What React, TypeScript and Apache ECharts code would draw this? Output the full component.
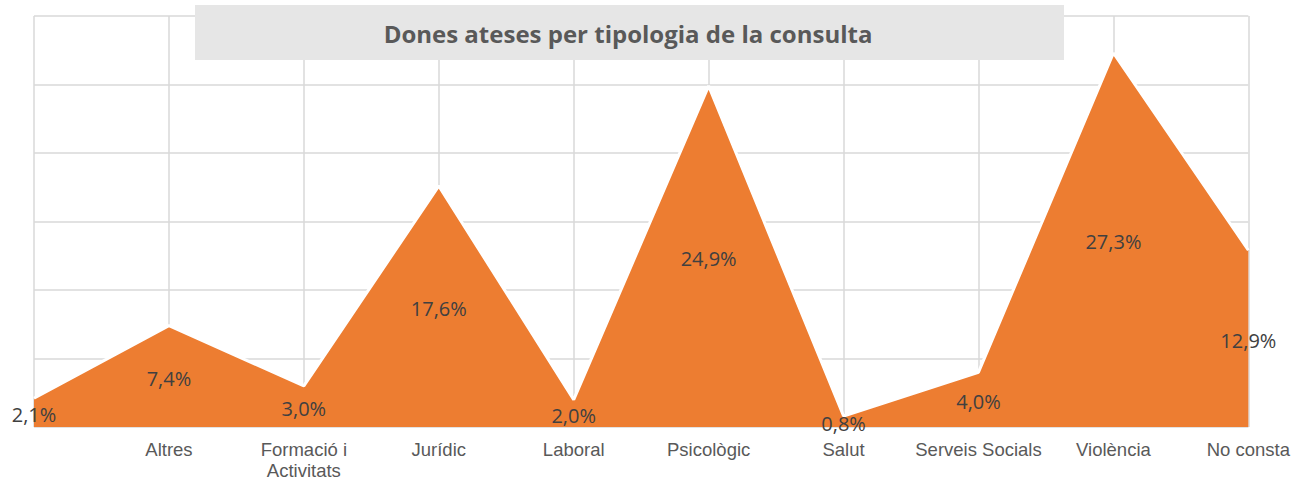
import React, { useEffect, useRef } from "react";
import * as echarts from "echarts";

const categories = [
  "",
  "Altres",
  "Formació i\nActivitats",
  "Jurídic",
  "Laboral",
  "Psicològic",
  "Salut",
  "Serveis Socials",
  "Violència",
  "No consta",
];
const values = [2.1, 7.4, 3.0, 17.6, 2.0, 24.9, 0.8, 4.0, 27.3, 12.9];
const titleText = "Dones ateses per tipologia de la consulta";

const fmt = (v: number) => v.toFixed(1).replace(".", ",") + "%";

export default function App() {
  const ref = useRef<HTMLDivElement>(null);
  useEffect(() => {
    if (!ref.current) return;
    const chart = echarts.init(ref.current, null, { renderer: "svg" });
    chart.setOption({
      animation: false,
      backgroundColor: "#ffffff",
      grid: { left: 34, right: 43, top: 16, bottom: 51, containLabel: false },
      xAxis: {
        type: "category",
        data: categories,
        boundaryGap: false,
        axisLine: { show: false },
        axisTick: { show: false },
        axisLabel: {
          color: "#595959",
          fontFamily: "Liberation Sans, Arial, sans-serif",
          fontSize: 18.5,
          lineHeight: 21,
          margin: 12,
          interval: 0,
        },
        splitLine: { show: true, lineStyle: { color: "#d9d9d9", width: 1.5 } },
      },
      yAxis: {
        type: "value",
        min: 0,
        max: 30,
        interval: 5,
        axisLabel: { show: false },
        axisLine: { show: false },
        axisTick: { show: false },
        splitLine: { show: true, lineStyle: { color: "#d9d9d9", width: 1.5 } },
      },
      graphic: [
        {
          type: "rect",
          left: 195,
          top: 5,
          shape: { width: 869, height: 55 },
          style: { fill: "#e6e6e6" },
          z: 10,
        },
        {
          type: "text",
          x: 628,
          y: 33,
          style: {
            text: titleText,
            fill: "#595959",
            font: "bold 24px 'Open Sans', sans-serif",
            align: "center",
            verticalAlign: "middle",
          },
          z: 11,
        },
      ],
      series: [
        {
          type: "line",
          data: values,
          symbol: "none",
          lineStyle: { color: "#ffffff", width: 3 },
          areaStyle: { color: "#ed7d31", opacity: 1 },
          itemStyle: { color: "#ed7d31" },
          z: 2,
        },
        {
          type: "custom",
          clip: false,
          z: 5,
          data: values.map((v, i) => [i, v]),
          renderItem: (params: any, api: any) => {
            const v = api.value(1);
            const p = api.coord([api.value(0), v / 2]);
            return {
              type: "text",
              x: p[0],
              y: p[1] + 2,
              style: {
                text: fmt(v),
                fill: "#404040",
                font: "20px 'Open Sans', sans-serif",
                align: "center",
                verticalAlign: "middle",
              },
            };
          },
        },
      ],
    });
    return () => chart.dispose();
  }, []);
  return <div ref={ref} style={{ width: 1293, height: 481, position: "absolute", left: 0, top: 0 }} />;
}
